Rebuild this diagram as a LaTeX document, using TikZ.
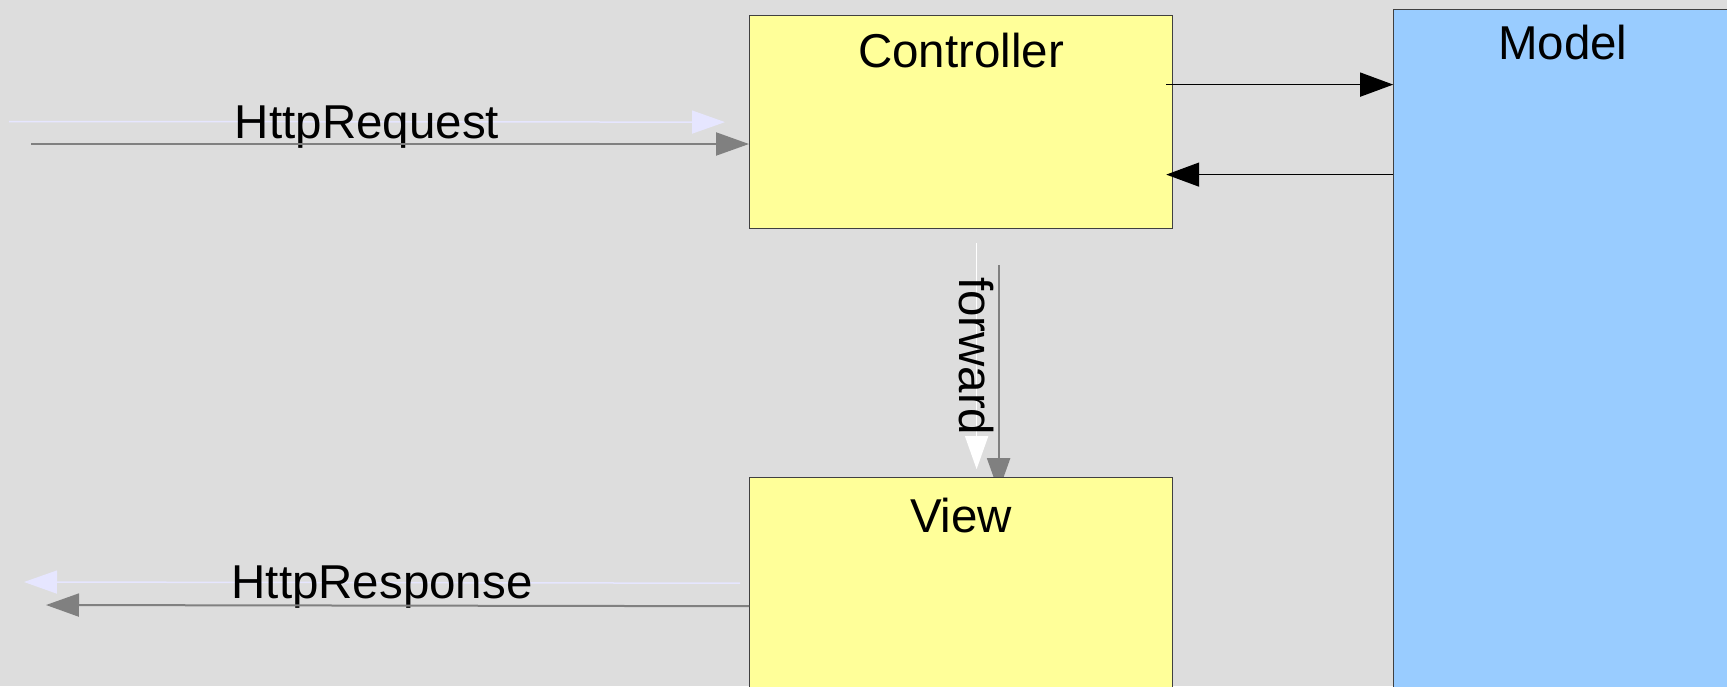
\documentclass[tikz,border=0pt]{standalone}
\usepackage{fontspec}
\setmainfont{Liberation Sans}
\usepackage{xcolor}
\usepackage{tikz}
\usetikzlibrary{arrows.meta, positioning}

\definecolor{bggray}{HTML}{DDDDDD}
\definecolor{boxyellow}{HTML}{FFFF99}
\definecolor{boxblue}{HTML}{99CCFF}
\definecolor{shade}{HTML}{E6E6FF}
\definecolor{flowgray}{HTML}{808080}

\begin{document}
\begin{tikzpicture}[x=0.5pt, y=-0.5pt,
    box/.style={rectangle, draw=black!75, line width=0.6pt, minimum width=211.5pt, minimum height=106.5pt, inner sep=0pt},
    title/.style={inner sep=0pt, text depth=0pt, font=\fontsize{23.75}{28}\selectfont},
    flow/.style={draw=flowgray, line width=1pt, -{Triangle[length=16.5pt, width=11.5pt]}},
    ghost/.style={draw=shade, line width=0.75pt, -{Triangle[length=16.5pt, width=11.5pt]}},
    call/.style={draw=black, line width=0.75pt, -{Triangle[length=16.5pt, width=12pt]}}]
    \useasboundingbox[fill=bggray] (0,0) rectangle (1727,686);

    \node[box, fill=boxyellow, anchor=north west] (ctrl) at (749,15) {};
    \draw[flow] ([shift={(18.75pt,-18pt)}]ctrl.south) -- ([shift={(18.75pt,-131pt)}]ctrl.south);
    \node[box, fill=boxyellow, minimum height=120pt, below=124pt of ctrl] (view) {};
    \node[box, fill=boxblue, minimum width=169pt, minimum height=350pt, right=110pt of ctrl.north east, anchor=north west, yshift=3pt] (model) {};

    \node[title, below=9pt of ctrl.north] (ctrlname) {Controller};
    \node[title, below=10pt of view.north] (viewname) {View};
    \node[title, below=8pt of model.north] (modelname) {Model};

    \coordinate (reqghost) at (9,121.5);
    \coordinate (reqstart) at (31,144);
    \coordinate (respghost) at (24,582);
    \coordinate (respend) at (46,605);

    \draw[ghost] (reqghost) -- ([xshift=-12pt]ctrl.west) node[midway, title] (reqlabel) {HttpRequest};
    \draw[flow] (reqstart) -- (reqstart -| ctrl.west);

    \draw[ghost] ([shift={(-4.5pt,-53pt)}]view.north west) -- (respghost) node[midway, title] (resplabel) {HttpResponse};
    \draw[flow] ([yshift=-64.5pt]view.north west) -- (respend);

    \draw[ghost, draw=white] ([shift={(7.75pt,-7pt)}]ctrl.south) -- ([shift={(7.75pt,4pt)}]view.north) node[midway, title, rotate=-90] (fwdlabel) {forward};

    \coordinate (callout) at ([shift={(-3.5pt,18.75pt)}]ctrl.east);
    \coordinate (callback) at ([shift={(-3.5pt,-26.25pt)}]ctrl.east);
    \draw[call] (callout) -- (callout -| model.west);
    \draw[call] (callback -| model.west) -- (callback);
\end{tikzpicture}
\end{document}
